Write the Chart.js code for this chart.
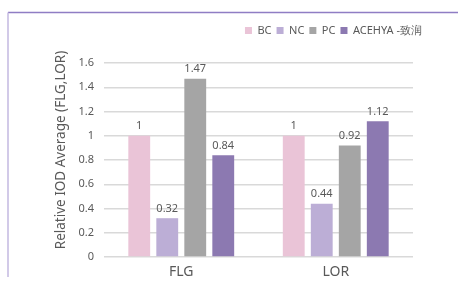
<!DOCTYPE html>
<html>
<head>
<meta charset="utf-8">
<script src="https://cdn.jsdelivr.net/npm/chart.js@4"></script>
<style>
  html, body { margin: 0; padding: 0; background: #fff; }
  #wrap { width: 458px; height: 281px; }
</style>
</head>
<body>
<div id="wrap"><canvas id="iodChart" width="458" height="281"></canvas></div>
<script>
// categorias e séries
const categories = ["FLG", "LOR"];
const seriesNames = ["BC", "NC", "PC", "ACEHYA -致润"];
const bcValues = [1, 1];
const ncValues = [0.32, 0.44];
const pcValues = [1.47, 0.92];
const acehyaValues = [0.84, 1.12];
const yTicks = [0, 0.2, 0.4, 0.6, 0.8, 1, 1.2, 1.4, 1.6];
const yTitle = "Relative IOD Average (FLG,LOR)";

const colors = ["#eac4d7", "#bcaed6", "#a5a5a5", "#8c79b1"];
const FONT = "'Noto Sans', sans-serif";

// moldura roxa (topo e esquerda) + título do eixo Y
const framePlugin = {
  id: "frame",
  beforeDraw(chart) {
    const c = chart.ctx;
    c.save();
    c.fillStyle = "#fff";
    c.fillRect(0, 0, chart.width, chart.height);
    c.lineWidth = 1.5;
    c.strokeStyle = "#8f7dc4";
    c.beginPath();
    c.moveTo(8, 12.5);
    c.lineTo(chart.width, 12.5);
    c.stroke();
    c.strokeStyle = "#c3b8e0";
    c.beginPath();
    c.moveTo(8, 12.5);
    c.lineTo(8, 277);
    c.stroke();
    // título vertical
    c.translate(61, 150);
    c.rotate(-Math.PI / 2);
    c.font = "13.5px " + FONT;
    c.fillStyle = "#595959";
    c.textAlign = "center";
    c.textBaseline = "middle";
    c.fillText(yTitle, 0, 0);
    c.restore();
  }
};

// rótulos de valor acima das barras
const valueLabels = {
  id: "valueLabels",
  afterDatasetsDraw(chart) {
    const c = chart.ctx;
    c.save();
    c.font = "11px " + FONT;
    c.fillStyle = "#595959";
    c.textAlign = "center";
    c.textBaseline = "bottom";
    chart.data.datasets.forEach((ds, i) => {
      chart.getDatasetMeta(i).data.forEach((bar, j) => {
        c.fillText(String(ds.data[j]), bar.x, bar.y - 4);
      });
    });
    c.restore();
  }
};

// espaço extra abaixo da legenda e deslocamento para a direita
const legendGap = {
  id: "legendGap",
  beforeInit(chart) {
    const fit = chart.legend.fit;
    chart.legend.fit = function () {
      fit.bind(chart.legend)();
      this.height += 17;
    };
  },
  afterLayout(chart) {
    chart.legend.left += 14;
    chart.legend.right += 14;
  }
};

const allValues = [bcValues, ncValues, pcValues, acehyaValues];

new Chart(document.getElementById("iodChart").getContext("2d"), {
  type: "bar",
  data: {
    labels: categories,
    datasets: seriesNames.map((name, i) => ({
      label: name,
      data: allValues[i],
      backgroundColor: colors[i],
      borderWidth: 0,
      barPercentage: 0.78,
      categoryPercentage: 0.725
    }))
  },
  options: {
    responsive: false,
    animation: false,
    layout: { padding: { left: 48, right: 45, top: 20, bottom: 0 } },
    plugins: {
      legend: {
        display: true,
        position: "top",
        align: "end",
        labels: {
          boxWidth: 7,
          boxHeight: 7,
          padding: 5,
          color: "#595959",
          font: { family: FONT, size: 11 }
        }
      },
      tooltip: { enabled: false }
    },
    scales: {
      x: {
        grid: { display: false, drawTicks: false },
        border: { display: false },
        afterFit(scale) {
          scale.height = 24;
        },
        ticks: { color: "#595959", padding: 7, font: { family: FONT, size: 14 } }
      },
      y: {
        min: 0,
        max: 1.6,
        afterBuildTicks(scale) {
          scale.ticks = yTicks.map(v => ({ value: v }));
        },
        afterFit(scale) {
          scale.width = 56;
        },
        grid: { color: "#d9d9d9", lineWidth: 1.5, drawTicks: false },
        border: { display: false },
        ticks: {
          color: "#595959",
          padding: 10,
          font: { family: FONT, size: 11 },
          callback: v => String(v)
        }
      }
    }
  },
  plugins: [framePlugin, valueLabels, legendGap]
});
</script>
</body>
</html>
